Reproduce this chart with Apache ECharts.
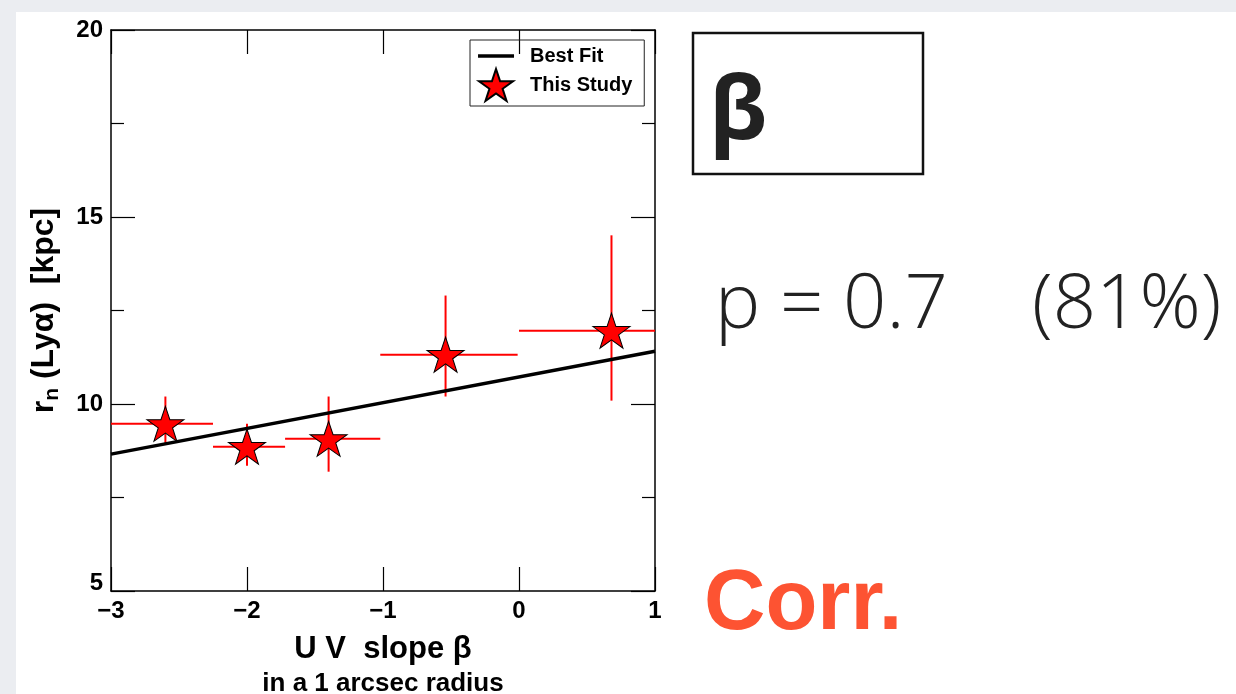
<!DOCTYPE html>
<html>
<head>
<meta charset="utf-8">
<script src="https://cdn.jsdelivr.net/npm/echarts@6/dist/echarts.min.js"></script>
<style>
  html, body { margin: 0; padding: 0; background: #ebedf1; }
  #chart { width: 1236px; height: 694px; }
</style>
</head>
<body>
<div id="chart"></div>
<script>
// UV slope beta (x) and Lyman-alpha halo scale length r_n (y) for each bin
const beta    = [-2.60, -2.00, -1.40, -0.54, 0.68];
const betaLo  = [-3.00, -2.25, -1.72, -1.02, 0.00];
const betaHi  = [-2.25, -1.72, -1.02, -0.01, 1.00];
const rn      = [9.47, 8.86, 9.07, 11.32, 11.96];
const rnLo    = [8.96, 8.35, 8.19, 10.20, 10.09];
const rnHi    = [10.20, 9.47, 10.20, 12.90, 14.51];

// Best-fit line evaluated at the axis ends
const fitX = [-3, 1];
const fitY = [8.66, 11.41];

// Axis ranges and tick labels
const xRange = [-3, 1];
const yRange = [5, 20];
const xTicks = ['−3', '−2', '−1', '0', '1'];
const yTicks = ['5', '10', '15', '20'];

const starPath = 'path://M50,0 L61.8,35.1 L98.9,35.1 L68.9,56.8 L80.3,91.9 L50,70.2 L19.7,91.9 L31.1,56.8 L1.1,35.1 L38.2,35.1 Z';
const lineIcon = 'path://M0,0 L32,0 L32,3 L0,3 Z';
const FONT = '"Liberation Sans", Arial, Helvetica, sans-serif';

const points = beta.map((b, i) => [b, rn[i]]);
const errData = beta.map((b, i) => [b, rn[i], betaLo[i], betaHi[i], rnLo[i], rnHi[i]]);
const fitData = fitX.map((x, i) => [x, fitY[i]]);

const chart = echarts.init(document.getElementById('chart'), null, { renderer: 'canvas' });

const tickLabel = { fontFamily: FONT, fontWeight: 'bold', fontSize: 24, color: '#000' };
const frameLine = { show: true, onZero: false, lineStyle: { color: '#000', width: 1.5 } };
const majorTick = { show: true, inside: true, length: 24, lineStyle: { color: '#000', width: 1.2 } };
const minorTick = { show: true, splitNumber: 2, length: 13, lineStyle: { color: '#000', width: 1.2 } };

chart.setOption({
  backgroundColor: '#ebedf1',
  animation: false,
  grid: { left: 111, top: 30, width: 544, height: 561, containLabel: false, outerBoundsMode: 'none' },
  xAxis: [
    {
      type: 'value', min: xRange[0], max: xRange[1], interval: 1, position: 'bottom',
      axisLine: frameLine, axisTick: majorTick, splitLine: { show: false },
      axisLabel: Object.assign({ margin: 8, formatter: (v) => xTicks[Math.round(v - xRange[0])] }, tickLabel),
      name: '{t|U V  slope β}\n{s|in a 1 arcsec radius}',
      nameLocation: 'middle', nameGap: 40,
      nameTextStyle: {
        rich: {
          t: { fontFamily: FONT, fontWeight: 'bold', fontSize: 31, color: '#000', lineHeight: 36 },
          s: { fontFamily: FONT, fontWeight: 'bold', fontSize: 26, color: '#000', lineHeight: 34 }
        }
      }
    },
    {
      type: 'value', min: xRange[0], max: xRange[1], interval: 1, position: 'top',
      axisLine: frameLine, axisTick: majorTick,
      axisLabel: { show: false }, splitLine: { show: false }
    }
  ],
  yAxis: [
    {
      type: 'value', min: yRange[0], max: yRange[1], interval: 5, position: 'left',
      axisLine: frameLine, axisTick: majorTick, minorTick: minorTick,
      splitLine: { show: false }, minorSplitLine: { show: false },
      axisLabel: Object.assign({
        margin: 8,
        // the lowest label sits just above the x-axis labels
        formatter: (v) => {
          const t = yTicks[Math.round((v - yRange[0]) / 5)];
          return v === yRange[0] ? '{lo|' + t + '}' : t;
        },
        rich: { lo: { fontFamily: FONT, fontWeight: 'bold', fontSize: 24, color: '#000', padding: [0, 0, 16, 0] } }
      }, tickLabel),
      name: '{a|r}{s|n}{a| (Lyα)  [kpc]}',
      nameLocation: 'middle', nameRotate: 90, nameGap: 48,
      nameTextStyle: {
        rich: {
          a: { fontFamily: FONT, fontWeight: 'bold', fontSize: 32, color: '#000', lineHeight: 38 },
          s: { fontFamily: FONT, fontWeight: 'bold', fontSize: 21, color: '#000', lineHeight: 38, verticalAlign: 'bottom', padding: [14, 0, 0, 0] }
        }
      }
    },
    {
      type: 'value', min: yRange[0], max: yRange[1], interval: 5, position: 'right',
      axisLine: frameLine, axisTick: majorTick, minorTick: minorTick,
      axisLabel: { show: false }, splitLine: { show: false }, minorSplitLine: { show: false }
    }
  ],
  legend: {
    orient: 'vertical', left: 470, top: 40,
    borderColor: '#222', borderWidth: 1, backgroundColor: 'transparent',
    padding: [6, 12, 4, 8], itemGap: 2, itemWidth: 36, itemHeight: 32,
    textStyle: { fontFamily: FONT, fontWeight: 'bold', fontSize: 20, color: '#000', padding: [0, 0, 0, 11] },
    data: [
      { name: 'Best Fit', icon: lineIcon, itemStyle: { color: '#000' } },
      { name: 'This Study', icon: starPath }
    ]
  },
  series: [
    {
      // horizontal and vertical error bars for each bin
      type: 'custom', name: 'errors', z: 2, silent: true,
      data: errData,
      renderItem: function (params, api) {
        const y = api.value(1), x = api.value(0);
        const a = api.coord([api.value(2), y]);
        const b = api.coord([api.value(3), y]);
        const c = api.coord([x, api.value(4)]);
        const d = api.coord([x, api.value(5)]);
        const style = { stroke: '#ff0000', lineWidth: 2 };
        return {
          type: 'group',
          children: [
            { type: 'line', shape: { x1: a[0], y1: a[1], x2: b[0], y2: b[1] }, style: style },
            { type: 'line', shape: { x1: c[0], y1: c[1], x2: d[0], y2: d[1] }, style: style }
          ]
        };
      }
    },
    {
      name: 'Best Fit', type: 'line', z: 3, data: fitData,
      symbol: 'none', showSymbol: false,
      lineStyle: { color: '#000', width: 3.5 },
      itemStyle: { color: '#000' }
    },
    {
      name: 'This Study', type: 'scatter', z: 4, data: points,
      symbol: starPath, symbolSize: [37, 35],
      itemStyle: { color: '#ff0000', borderColor: '#000', borderWidth: 1, opacity: 1 }
    }
  ],
  graphic: [
    { type: 'rect', z: -10, silent: true, shape: { x: 16, y: 12, width: 1220, height: 682 }, style: { fill: '#ffffff' } },
    { type: 'rect', silent: true, shape: { x: 693, y: 33, width: 230, height: 141 }, style: { fill: 'transparent', stroke: '#111', lineWidth: 2.5 } },
    { type: 'text', silent: true, left: 709, top: 70, style: { text: 'β', font: 'bold 88px "Open Sans", sans-serif', fill: '#222' } },
    { type: 'text', silent: true, left: 715, top: 268, style: { text: 'p = 0.7', font: '300 76px "Open Sans", sans-serif', fill: '#222' } },
    { type: 'text', silent: true, left: 1032, top: 268, style: { text: '(81%)', font: '300 76px "Open Sans", sans-serif', fill: '#222' } },
    { type: 'text', silent: true, left: 704, top: 563, style: { text: 'Corr.', font: 'bold 85px "Liberation Sans", Arial, sans-serif', fill: '#fd5332' } }
  ]
});
</script>
</body>
</html>
